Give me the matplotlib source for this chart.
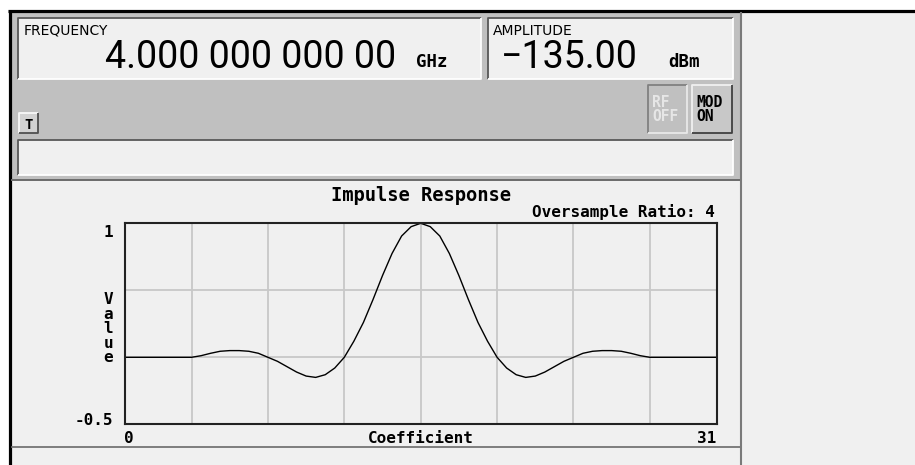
import numpy as np
import matplotlib
matplotlib.use('Agg')
import matplotlib.pyplot as plt
from matplotlib.patches import Rectangle

coef = np.arange(0, 31.5, 0.5)
left_half = [0.0, 0.0, 0.0, 0.0, 0.0, 0.0, 0.0, 0.0, 0.012, 0.03, 0.045, 0.05,
             0.05, 0.045, 0.03, 0.0, -0.03, -0.07, -0.11, -0.14, -0.15, -0.13,
             -0.08, 0.0, 0.12, 0.26, 0.43, 0.61, 0.775, 0.905, 0.975]
peak = [1.0]
value = left_half + peak + left_half[::-1]

freq_text = '4.000 000 000 00'
freq_unit = 'GHz'
ampl_text = '\u2212135.00'
ampl_unit = 'dBm'
title = 'Impulse Response'
ratio_text = 'Oversample Ratio: 4'
y_labels = ['1', '-0.5']
x_labels = ['0', '31']

MONO = 'DejaVu Sans Mono'


def box(ax, x0, y0, x1, y1, face, tl, br, lw=1.3):
    '''Caja con borde 3D (tl: arriba-izquierda, br: abajo-derecha)'''
    ax.add_patch(Rectangle((x0, y0), x1 - x0, y1 - y0, facecolor=face,
                           edgecolor='none'))
    ax.plot([x0, x0, x1], [y1, y0, y0], color=tl, lw=lw, solid_capstyle='butt')
    ax.plot([x0, x1, x1], [y1, y1, y0], color=br, lw=lw, solid_capstyle='butt')


fig = plt.figure(figsize=(9.15, 4.65), dpi=100, facecolor='white')
bg = fig.add_axes([0, 0, 1, 1])
bg.set_xlim(0, 915)
bg.set_ylim(465, 0)
bg.axis('off')

# Paneles de fondo
bg.add_patch(Rectangle((9.5, 11), 730.5, 169, facecolor='#c0c0c0', edgecolor='none'))
bg.add_patch(Rectangle((9.5, 180), 730.5, 285, facecolor='#f0f0f0', edgecolor='none'))
bg.add_patch(Rectangle((740, 11), 175, 454, facecolor='#f0f0f0', edgecolor='none'))
bg.plot([8, 915], [11, 11], color='black', lw=2.3, solid_capstyle='butt')
bg.plot([9.5, 9.5], [10, 465], color='black', lw=2.3, solid_capstyle='butt')
bg.plot([740.5, 740.5], [12, 465], color='#7a7a7a', lw=1.5, solid_capstyle='butt')
bg.plot([11, 740], [180, 180], color='#6a6a6a', lw=1.4, solid_capstyle='butt')
bg.plot([11, 740], [446.5, 446.5], color='#6a6a6a', lw=1.2, solid_capstyle='butt')

# Cajas de frecuencia, amplitud y mensajes
box(bg, 18, 18, 481, 79, '#f0f0f0', '#585858', '#ffffff')
box(bg, 488, 18, 733, 79, '#f0f0f0', '#585858', '#ffffff')
box(bg, 18, 140, 733, 175, '#f0f0f0', '#585858', '#ffffff')
box(bg, 19, 113, 38, 133, '#d2d2d2', '#f8f8f8', '#505050')
box(bg, 648, 85, 687, 133, '#c0c0c0', '#808080', '#e8e8e8')
box(bg, 692, 85, 732, 133, '#c8c8c8', '#f0f0f0', '#404040')

bg.text(24, 35, 'FREQUENCY', fontsize=10, family='DejaVu Sans', va='baseline')
bg.text(105, 68, freq_text, fontsize=27, family=['Roboto', 'DejaVu Sans'],
        va='baseline')
bg.text(416, 67, freq_unit, fontsize=12.5, family=MONO, weight='bold',
        va='baseline')
bg.text(493, 35, 'AMPLITUDE', fontsize=10, family='DejaVu Sans', va='baseline')
bg.text(501, 68, ampl_text, fontsize=27, family=['Roboto', 'DejaVu Sans'],
        va='baseline')
bg.text(668, 67, ampl_unit, fontsize=12.5, family=MONO, weight='bold',
        va='baseline')
bg.text(28.5, 128.5, 'T', fontsize=10, family=MONO, weight='bold',
        ha='center', va='baseline')
bg.text(652, 107, 'RF', fontsize=10.5, family=MONO, weight='bold',
        color='#e6e6e6', va='baseline')
bg.text(652, 121, 'OFF', fontsize=10.5, family=MONO, weight='bold',
        color='#e6e6e6', va='baseline')
bg.text(696, 107, 'MOD', fontsize=10.5, family=MONO, weight='bold', va='baseline')
bg.text(696, 121, 'ON', fontsize=10.5, family=MONO, weight='bold', va='baseline')

# Textos del grafico
bg.text(420.7, 201, title, fontsize=13.5, family=MONO, weight='bold',
        ha='center', va='baseline')
bg.text(715, 217, ratio_text, fontsize=11.5, family=MONO, weight='bold',
        ha='right', va='baseline')
bg.text(113, 237, y_labels[0], fontsize=11.5, family=MONO, weight='bold',
        ha='right', va='baseline')
bg.text(113, 425, y_labels[1], fontsize=11.5, family=MONO, weight='bold',
        ha='right', va='baseline')
for i, letter in enumerate('Value'):
    bg.text(108.5, 304 + i * 14.5, letter, fontsize=11.5, family=MONO,
            weight='bold', ha='center', va='baseline')
bg.text(124, 443, x_labels[0], fontsize=11.5, family=MONO, weight='bold',
        ha='left', va='baseline')
bg.text(420.7, 443, 'Coefficient', fontsize=11.5, family=MONO, weight='bold',
        ha='center', va='baseline')
bg.text(716, 443, x_labels[1], fontsize=11.5, family=MONO, weight='bold',
        ha='right', va='baseline')

# Area del grafico
ax = fig.add_axes([124.7 / 915, (465 - 424.3) / 465, 592 / 915, 201 / 465])
ax.set_facecolor('#f0f0f0')
ax.plot(coef, value, color='black', lw=1.0)
ax.set_xlim(0, 31)
ax.set_ylim(-0.5, 1)
ax.set_xticks(np.arange(3.5, 31, 4))
ax.set_yticks([0, 0.5])
ax.grid(color='#c8c8c8', lw=1.3)
ax.set_axisbelow(True)
ax.tick_params(length=0, labelbottom=False, labelleft=False)
for spine in ax.spines.values():
    spine.set_color('#222222')
    spine.set_linewidth(1.5)

fig.savefig('out.png', dpi=100, facecolor='white')
